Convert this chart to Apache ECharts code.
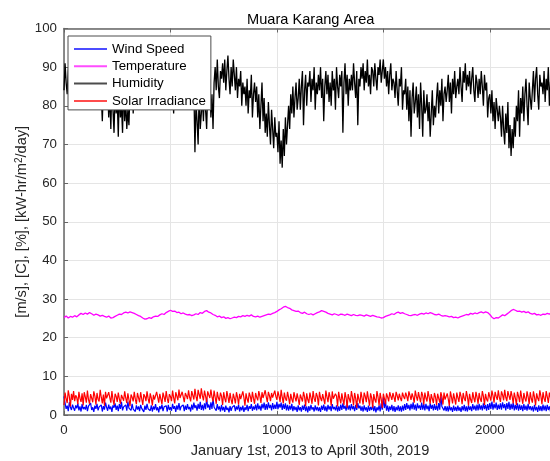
<!DOCTYPE html>
<html>
<head>
<meta charset="utf-8">
<script src="https://cdn.jsdelivr.net/npm/echarts@6/dist/echarts.min.js"></script>
<style>
html,body{margin:0;padding:0;background:#fff;}
#chart{width:550px;height:461px;}
</style>
</head>
<body>
<div id="chart"></div>
<script>
// ---- data ----
// noisy series: one sample every 5 days; temperature: every 10 days
const fineStep = 5;
const coarseStep = 10;
const xTicks = [0, 500, 1000, 1500, 2000];
const yTicks = [0, 10, 20, 30, 40, 50, 60, 70, 80, 90, 100];
const seriesNames = ['Wind Speed', 'Temperature', 'Humidity', 'Solar Irradiance'];

const windSpeed = [
  4.8, 3.1, 1.6, 2.4, 1.0, 3.3, 2.0, 1.3, 2.7, 1.8,
  1.1, 2.5, 1.7, 3.0, 1.2, 2.2, 0.9, 2.8, 1.5, 2.1,
  1.4, 2.6, 1.0, 2.3, 1.8, 3.1, 1.3, 2.0, 0.8, 2.4,
  1.6, 2.9, 1.2, 2.1, 1.7, 2.6, 0.9, 2.3, 1.4, 3.2,
  2.0, 1.1, 2.7, 1.5, 2.2, 0.8, 2.5, 1.9, 3.0, 1.3,
  2.4, 1.0, 2.8, 1.6, 3.4, 1.2, 2.1, 1.7, 2.6, 1.1,
  3.5, 1.8, 2.3, 1.2, 2.9, 1.5, 2.0, 0.9, 2.5, 1.4,
  2.2, 1.0, 2.6, 1.7, 2.0, 0.8, 2.4, 1.3, 2.9, 1.6,
  1.9, 1.1, 2.5, 0.9, 2.2, 1.4, 2.8, 1.2, 2.0, 0.7,
  2.3, 1.5, 2.7, 1.0, 2.1, 1.8, 2.4, 0.9, 2.6, 1.3,
  2.0, 1.1, 2.9, 1.6, 2.3, 0.8, 2.5, 1.4, 3.1, 1.2,
  2.2, 1.7, 2.6, 1.0, 2.4, 1.3, 2.8, 1.5, 2.1, 0.9,
  2.7, 1.4, 3.2, 1.8, 2.5, 1.1, 2.9, 1.6, 3.4, 1.3,
  2.6, 1.2, 3.0, 1.5, 4.4, 1.9, 2.7, 1.3, 3.3, 1.6,
  4.1, 2.0, 2.5, 1.1, 2.8, 1.4, 2.2, 0.9, 2.6, 1.2,
  2.1, 0.8, 2.4, 1.3, 1.9, 0.7, 2.3, 1.1, 2.0, 1.5,
  2.5, 1.0, 2.2, 1.4, 2.7, 0.9, 2.1, 1.2, 2.4, 0.8,
  2.0, 1.3, 2.6, 1.0, 2.3, 1.6, 2.8, 1.1, 2.2, 1.4,
  2.7, 1.2, 3.0, 1.5, 2.4, 1.1, 2.9, 1.7, 3.2, 1.3,
  2.8, 1.4, 3.3, 1.8, 2.6, 1.2, 3.1, 1.5, 2.7, 1.6,
  3.4, 1.5, 2.9, 1.9, 3.2, 1.3, 2.8, 1.6, 3.0, 1.2,
  2.6, 1.1, 2.4, 1.4, 2.9, 1.0, 2.3, 1.3, 2.1, 0.8,
  2.5, 1.2, 2.0, 0.9, 2.4, 1.3, 2.7, 1.0, 2.2, 0.7,
  2.3, 1.1, 2.6, 1.4, 2.0, 0.9, 2.5, 1.2, 2.1, 1.0,
  2.0, 0.8, 2.4, 1.3, 2.7, 1.1, 2.2, 0.9, 2.6, 1.4,
  2.3, 1.0, 2.8, 1.5, 2.1, 1.2, 2.5, 0.9, 2.2, 1.1,
  2.7, 1.3, 3.0, 1.6, 2.4, 1.1, 2.9, 1.4, 2.5, 1.2,
  2.8, 1.5, 2.3, 1.0, 2.6, 1.3, 3.1, 1.7, 2.4, 1.1,
  2.2, 0.9, 2.5, 1.2, 2.0, 0.8, 2.4, 1.1, 2.1, 1.3,
  2.6, 1.0, 2.3, 0.7, 2.0, 1.2, 2.5, 0.9, 3.0, 1.4,
  4.6, 1.8, 3.6, 1.1, 2.4, 0.9, 2.2, 1.3, 2.6, 1.0,
  2.3, 0.8, 2.1, 1.2, 2.5, 1.0, 2.2, 0.9, 2.4, 1.1,
  2.8, 1.3, 3.1, 1.6, 2.6, 1.2, 2.9, 1.5, 3.3, 1.4,
  2.7, 1.1, 3.0, 1.7, 2.5, 1.3, 3.2, 1.4, 2.8, 1.2,
  2.9, 1.5, 2.4, 1.0, 3.0, 1.6, 2.6, 1.2, 2.8, 1.3,
  2.5, 1.1, 3.1, 1.4, 5.2, 2.2, 2.7, 1.2, 2.3, 1.0,
  2.2, 0.9, 2.5, 1.2, 2.0, 0.8, 2.4, 1.1, 2.1, 1.0,
  2.4, 1.1, 2.0, 0.8, 2.3, 1.2, 2.6, 1.0, 2.2, 0.9,
  2.5, 1.3, 2.2, 1.0, 2.8, 1.4, 2.4, 1.1, 2.7, 1.2,
  2.9, 1.4, 2.5, 1.2, 3.0, 1.5, 2.6, 1.1, 2.8, 1.3,
  3.1, 1.6, 3.5, 1.4, 2.9, 1.7, 3.2, 1.3, 2.7, 1.5,
  3.0, 1.4, 3.3, 1.8, 2.8, 1.2, 3.1, 1.6, 3.4, 1.3,
  2.9, 1.5, 3.2, 1.2, 2.6, 1.4, 3.0, 1.1, 2.7, 1.3,
  2.5, 1.0, 2.8, 1.3, 2.4, 1.1, 2.9, 1.4, 2.3, 1.2,
  2.2, 0.9, 2.6, 1.2, 2.1, 0.8, 2.5, 1.1, 2.3, 1.0,
  2.7, 1.2, 2.4, 1.0, 2.6, 1.3, 2.2, 0.9, 2.5, 1.1,
  2.3, 1.0, 2.1
];

const temperature = [
  25.2, 25.6, 25.1, 25.5, 25.3, 25.7, 25.4, 25.9, 26.3, 26.0,
  26.4, 26.1, 26.5, 26.2, 25.8, 26.1, 25.9, 25.6, 25.8, 25.5,
  25.3, 25.6, 25.1, 25.2, 25.5, 25.8, 26.1, 26.0, 26.4, 26.6,
  26.4, 26.7, 26.5, 26.3, 26.0, 25.7, 25.5, 25.1, 24.8, 24.9,
  25.2, 25.0, 25.4, 25.6, 25.5, 25.9, 26.2, 26.0, 26.5, 26.8,
  27.1, 26.8, 26.9, 26.5, 26.6, 26.2, 26.4, 26.1, 25.9, 26.0,
  25.7, 25.9, 26.2, 26.0, 26.5, 26.3, 26.8, 27.0, 26.6, 26.4,
  26.0, 25.8, 25.4, 25.6, 25.2, 25.4, 25.0, 25.2, 24.9, 25.1,
  25.3, 25.2, 25.5, 25.4, 25.7, 25.5, 25.8, 25.6, 25.9, 25.5,
  25.4, 25.6, 25.3, 25.5, 25.7, 25.9, 26.1, 26.0, 26.3, 26.5,
  26.8, 27.2, 27.5, 27.9, 28.1, 27.8, 27.6, 27.2, 27.0, 26.8,
  26.9, 26.5, 26.3, 26.6, 26.2, 26.0, 26.2, 25.9, 26.2, 26.5,
  26.7, 27.0, 26.8, 26.6, 26.3, 26.1, 25.9, 26.2, 26.0, 25.8,
  26.1, 26.0, 25.8, 26.1, 25.9, 25.7, 26.0, 25.8, 25.7, 25.9,
  25.8, 25.6, 25.9, 25.7, 25.5, 25.8, 25.6, 25.4, 25.3, 25.1,
  25.2, 25.5, 25.7, 25.9, 26.2, 26.0, 26.4, 26.6, 26.3, 26.5,
  26.2, 26.0, 25.8, 25.7, 25.9, 26.0, 25.8, 26.1, 26.3, 26.1,
  26.4, 26.2, 26.5, 26.3, 26.0, 25.9, 26.1, 25.8, 25.6, 25.7,
  25.6, 25.4, 25.5, 25.2, 25.3, 25.1, 25.4, 25.6, 25.8, 26.0,
  25.9, 26.3, 26.1, 26.4, 26.2, 26.5, 26.7, 26.4, 26.7, 26.5,
  26.0, 25.3, 24.9, 25.2, 25.1, 25.5, 25.9, 25.7, 26.1, 26.5,
  27.0, 27.3, 27.1, 26.8, 26.9, 26.6, 26.8, 26.5, 26.7, 26.3,
  26.1, 26.3, 25.9, 26.0, 25.8, 26.1, 26.0, 26.3, 26.1, 26.4,
  26.2, 26.4
];

const humidity = [
  84, 91, 86, 83, 89, 92, 85, 88, 82, 90,
  87, 83, 90, 85, 81, 88, 86, 89, 82, 86,
  84, 89, 81, 87, 90, 85, 83, 88, 80, 86,
  88, 84, 86, 82, 89, 83, 76, 85, 81, 87,
  80, 85, 77, 83, 74, 86, 79, 73, 84, 78,
  82, 72, 85, 77, 80, 73, 86, 76, 81, 74,
  79, 75, 84, 80, 87, 78, 85, 82, 88, 81,
  86, 83, 90, 84, 81, 88, 85, 89, 82, 87,
  85, 89, 82, 87, 90, 84, 81, 88, 86, 83,
  87, 82, 89, 85, 80, 88, 84, 90, 83, 86,
  84, 88, 85, 78, 86, 82, 87, 83, 80, 85,
  87, 83, 89, 84, 81, 88, 86, 82, 87, 84,
  83, 79, 85, 68, 81, 76, 70, 84, 74, 78,
  82, 76, 85, 79, 74, 84, 80, 87, 77, 83,
  74, 86, 90, 84, 92, 85, 82, 89, 87, 91,
  86, 92, 84, 89, 93, 87, 83, 90, 85, 92,
  88, 84, 90, 82, 87, 85, 89, 80, 86, 83,
  85, 80, 87, 78, 84, 82, 88, 77, 83, 86,
  81, 85, 77, 83, 74, 80, 86, 76, 82, 73,
  78, 72, 81, 75, 70, 79, 74, 69, 77, 72,
  73, 68, 76, 65, 71, 64, 74, 67, 77, 70,
  75, 80, 74, 83, 78, 85, 77, 82, 86, 79,
  82, 87, 79, 85, 89, 75, 84, 88, 80, 86,
  85, 89, 81, 87, 84, 90, 79, 86, 83, 88,
  84, 90, 82, 87, 76, 85, 89, 83, 88, 81,
  86, 80, 89, 84, 87, 79, 90, 85, 82, 88,
  85, 89, 73, 86, 91, 83, 88, 80, 87, 84,
  88, 84, 91, 86, 82, 89, 75, 87, 85, 90,
  87, 91, 84, 89, 86, 92, 85, 88, 83, 90,
  89, 85, 91, 87, 84, 90, 88, 92, 86, 89,
  92, 87, 90, 85, 89, 83, 88, 91, 84, 87,
  86, 82, 89, 84, 80, 87, 85, 90, 79, 84,
  83, 87, 79, 85, 76, 84, 72, 82, 86, 78,
  81, 85, 77, 83, 74, 86, 80, 72, 84, 78,
  79, 83, 76, 81, 72, 78, 84, 75, 80, 77,
  82, 86, 78, 84, 80, 87, 76, 83, 85, 81,
  84, 88, 81, 86, 78, 87, 83, 89, 82, 85,
  87, 83, 90, 85, 81, 89, 86, 91, 84, 88,
  85, 89, 83, 87, 90, 84, 81, 88, 86, 82,
  87, 83, 89, 85, 80, 88, 84, 86, 77, 82,
  83, 78, 84, 76, 81, 74, 82, 79, 76, 80,
  77, 72, 80, 74, 70, 78, 73, 81, 69, 75,
  67, 74, 69, 77, 72, 80, 76, 84, 72, 82,
  78, 85, 76, 83, 87, 80, 75, 86, 82, 79,
  84, 89, 81, 87, 90, 83, 79, 88, 85, 86,
  83, 89, 81, 87, 84, 90, 80, 86, 88, 82,
  85, 88, 83
];

const solarIrradiance = [
  2.6, 5.8, 4.2, 3.1, 6.4, 4.8, 2.2, 5.5, 3.9, 6.2,
  3.6, 5.1, 4.5, 2.8, 6.0, 4.3, 3.4, 5.6, 2.5, 5.9,
  4.7, 3.2, 6.3, 4.0, 2.9, 5.4, 4.4, 3.3, 6.1, 4.9,
  2.7, 5.7, 4.1, 3.5, 6.5, 4.6, 3.0, 5.3, 2.4, 6.0,
  4.3, 3.8, 5.9, 4.5, 3.2, 6.2, 4.0, 2.6, 5.5, 4.8,
  3.4, 5.8, 4.2, 2.9, 5.2, 4.7, 3.7, 6.1, 4.4, 3.1,
  5.6, 4.0, 2.3, 5.3, 4.6, 3.5, 6.0, 4.1, 2.8, 5.7,
  4.5, 3.3, 5.9, 4.2, 2.6, 5.4, 4.8, 3.6, 6.1, 4.3,
  3.0, 5.6, 4.4, 2.5, 5.2, 4.0, 3.7, 6.0, 4.6, 3.2,
  5.5, 4.1, 2.8, 5.8, 4.7, 3.4, 6.2, 4.3, 3.1, 5.4,
  4.8, 3.6, 6.3, 4.5, 3.0, 5.9, 4.9, 3.8, 6.6, 4.4,
  3.9, 6.0, 4.7, 3.3, 5.7, 5.0, 4.1, 6.4, 4.6, 3.5,
  6.2, 5.1, 4.0, 6.8, 4.8, 3.6, 6.5, 5.3, 4.2, 6.9,
  5.0, 3.8, 6.3, 4.9, 3.3, 6.1, 5.2, 4.4, 6.6, 4.7,
  3.5, 6.3, 4.6, 2.9, 6.0, 4.4, 3.7, 5.8, 4.9, 2.6,
  5.9, 4.3, 3.3, 6.2, 4.7, 3.1, 5.7, 4.0, 2.8, 5.5,
  4.4, 3.0, 5.9, 4.6, 2.7, 5.5, 4.1, 3.6, 6.1, 4.5,
  2.4, 5.6, 4.2, 3.2, 5.8, 4.8, 3.4, 6.0, 4.3, 2.9,
  5.7, 4.6, 3.8, 6.2, 4.9, 3.1, 5.9, 4.4, 4.0, 6.4,
  4.7, 3.3, 6.0, 5.0, 3.6, 5.7, 4.5, 4.0, 6.3, 4.8,
  3.9, 6.1, 4.9, 3.4, 6.5, 4.6, 3.0, 5.8, 4.3, 3.7,
  6.0, 4.5, 2.8, 5.5, 4.1, 3.2, 5.9, 4.6, 3.5, 5.6,
  4.2, 2.6, 5.3, 4.4, 3.5, 6.0, 4.7, 2.3, 5.6, 4.0,
  3.1, 5.8, 4.5, 2.9, 6.2, 4.3, 3.4, 5.7, 4.8, 2.5,
  6.0, 4.4, 3.6, 5.4, 4.1, 2.8, 6.3, 4.7, 3.3, 5.9,
  4.6, 2.4, 6.1, 4.2, 3.7, 5.5, 4.9, 2.2, 6.0, 4.3,
  3.0, 5.6, 4.0, 2.6, 5.9, 4.5, 1.9, 5.4, 4.2, 3.2,
  6.2, 4.6, 2.5, 5.7, 4.3, 1.8, 5.5, 4.1, 3.0, 6.0,
  4.4, 2.7, 5.8, 4.8, 3.3, 6.1, 4.2, 2.4, 5.6, 4.5,
  1.9, 5.4, 4.0, 3.2, 6.2, 4.6, 2.5, 5.7, 4.1, 1.8,
  5.5, 4.3, 2.8, 5.6, 4.7, 3.5, 5.9, 4.9, 3.9, 5.7,
  4.6, 3.4, 6.0, 5.0, 3.8, 5.5, 4.4, 3.6, 5.8, 4.8,
  4.1, 5.8, 4.9, 3.6, 6.1, 5.1, 3.9, 5.6, 4.6, 3.2,
  6.3, 4.8, 3.7, 5.9, 4.5, 3.3, 6.0, 5.0, 2.7, 5.8,
  4.4, 3.5, 6.2, 4.7, 2.9, 5.4, 4.2, 3.1, 5.7, 4.6,
  2.6, 5.5, 4.3, 3.2, 5.9, 4.8, 2.7, 5.8, 4.0, 3.6,
  5.6, 4.1, 2.4, 6.1, 4.6, 3.0, 5.6, 4.2, 2.7, 5.8,
  4.5, 3.4, 6.0, 4.8, 2.8, 5.7, 4.3, 3.6, 6.2, 4.7,
  2.5, 5.5, 4.0, 3.1, 5.9, 4.4, 3.3, 6.0, 4.6, 2.9,
  5.7, 4.2, 3.4, 6.2, 4.9, 2.6, 5.5, 4.1, 3.5, 5.9,
  4.7, 3.7, 6.3, 5.0, 3.2, 6.0, 4.8, 3.9, 6.4, 4.5,
  3.4, 6.1, 5.2, 3.8, 6.5, 4.6, 3.6, 6.2, 5.0, 3.9,
  6.2, 4.8, 3.0, 5.8, 4.4, 2.6, 6.0, 4.9, 3.3, 6.3,
  4.5, 2.9, 5.7, 4.3, 3.5, 6.1, 4.7, 2.8, 5.9, 4.2,
  3.2, 6.1, 4.6, 2.5, 5.6, 4.4, 3.6, 6.4, 4.9, 2.8,
  5.9, 4.3, 3.4, 6.2, 4.7, 3.1, 5.8, 4.5, 2.9, 6.0,
  4.4, 3.0, 5.8
];

const xMax = 2311; // Jan 1st 2013 .. Apr 30th 2019 in days

function toPairs(arr, step) {
  return arr.map((v, i) => [i * step, v]);
}

const FONT = 'Liberation Sans, Arial, Helvetica, sans-serif';
const AXIS_COLOR = '#666666';
const LABEL_COLOR = '#262626';

const chart = echarts.init(document.getElementById('chart'), null, { renderer: 'canvas' });

const colors = ['#0000ff', '#ff00ff', '#000000', '#ff0000'];
const dataArrays = [windSpeed, temperature, humidity, solarIrradiance];
const steps = [fineStep, coarseStep, fineStep, fineStep];
const widths = [1.2, 1.3, 1.3, 1.2];

const option = {
  animation: false,
  backgroundColor: '#ffffff',
  textStyle: { fontFamily: FONT },
  title: {
    text: 'Muara Karang Area',
    left: 247,
    top: 12,
    padding: 0,
    textStyle: { fontFamily: FONT, fontSize: 14.6, fontWeight: 'normal', color: '#000000' }
  },
  legend: {
    orient: 'vertical',
    left: 68,
    top: 36,
    z: 20,
    padding: [6.5, 5, 2.5, 6],
    itemGap: 4.3,
    itemWidth: 33,
    itemHeight: 2,
    icon: 'rect',
    backgroundColor: '#ffffff',
    borderColor: '#4d4d4d',
    borderWidth: 1,
    borderRadius: 0,
    itemStyle: { opacity: 0.7 },
    textStyle: { fontFamily: FONT, fontSize: 13.3, color: '#000000' },
    data: seriesNames
  },
  grid: {
    left: 64,
    top: 28.5,
    width: 492,
    height: 386.5,
    containLabel: false,
    outerBoundsMode: 'none'
  },
  xAxis: [
    {
      type: 'value',
      position: 'bottom',
      min: 0,
      max: xMax,
      interval: 500,
      name: 'January 1st, 2013 to April 30th, 2019',
      nameLocation: 'middle',
      nameGap: 28,
      nameMoveOverlap: false,
      nameTextStyle: { fontFamily: FONT, fontSize: 14.6, color: LABEL_COLOR },
      axisLine: { show: true, onZero: false, lineStyle: { color: AXIS_COLOR, width: 1.5 } },
      axisTick: { show: true, inside: true, length: 4, lineStyle: { color: AXIS_COLOR } },
      axisLabel: {
        fontFamily: FONT, fontSize: 13.3, color: LABEL_COLOR, margin: 9,
        showMaxLabel: false,
        formatter: v => (xTicks.indexOf(v) >= 0 ? String(v) : '')
      },
      splitLine: { show: true, lineStyle: { color: '#e5e5e5', width: 1 } }
    },
    {
      type: 'value',
      position: 'top',
      min: 0,
      max: xMax,
      interval: 500,
      axisLine: { show: true, onZero: false, lineStyle: { color: AXIS_COLOR, width: 1.5 } },
      axisTick: { show: true, inside: true, length: 4, lineStyle: { color: AXIS_COLOR } },
      axisLabel: { show: false },
      splitLine: { show: false }
    }
  ],
  yAxis: {
    type: 'value',
    min: 0,
    max: 100,
    interval: 10,
    name: '[m/s], [C], [%], [kW-hr/m{sup|2}/day]',
    nameLocation: 'middle',
    nameGap: 34,
    nameMoveOverlap: false,
    nameRotate: 90,
    nameTextStyle: {
      fontFamily: FONT, fontSize: 14.6, color: LABEL_COLOR,
      rich: { sup: { fontFamily: FONT, fontSize: 10, color: LABEL_COLOR, verticalAlign: 'top', padding: [0, 0, 6, 0] } }
    },
    axisLine: { show: true, onZero: false, lineStyle: { color: AXIS_COLOR, width: 1.5 } },
    axisTick: { show: true, inside: true, length: 4, lineStyle: { color: AXIS_COLOR } },
    axisLabel: {
      fontFamily: FONT, fontSize: 13.3, color: LABEL_COLOR, margin: 7,
      formatter: v => (yTicks.indexOf(v) >= 0 ? String(v) : '')
    },
    splitLine: { show: true, lineStyle: { color: '#e5e5e5', width: 1 } }
  },
  series: seriesNames.map((name, i) => ({
    name: name,
    type: 'line',
    xAxisIndex: 0,
    data: toPairs(dataArrays[i], steps[i]),
    showSymbol: false,
    symbol: 'none',
    silent: true,
    color: colors[i],
    lineStyle: { color: colors[i], width: widths[i] },
    z: 2
  }))
};

chart.setOption(option);
</script>
</body>
</html>
